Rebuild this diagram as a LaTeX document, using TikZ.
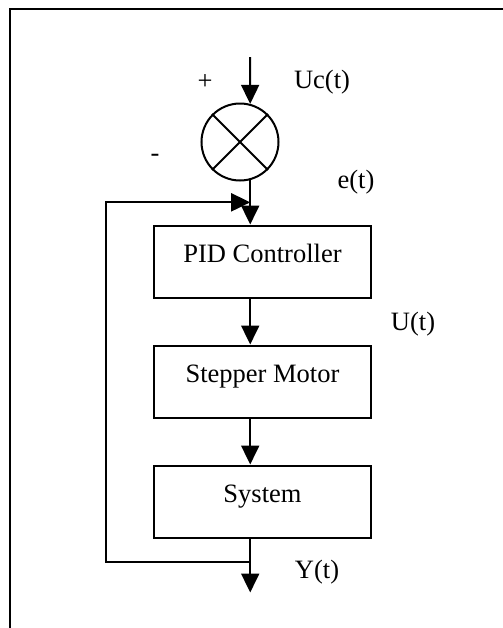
\documentclass[tikz,border=0pt]{standalone}
\usepackage{fontspec}
\setmainfont{Liberation Serif}
\usetikzlibrary{positioning,arrows.meta,calc}
\tikzset{
  block/.style={draw=black, line width=1pt, minimum width=108.5pt, minimum height=36pt,
    inner sep=0pt, text height=9pt, text depth=8.5pt},
  sumjunc/.style={draw=black, line width=1pt, shape=circle, minimum size=38.5pt, inner sep=0pt},
  signal/.style={draw=black, line width=1pt, -{Triangle[width=9pt,length=9.5pt]}},
  wire/.style={draw=black, line width=1pt},
  frame/.style={draw=black, line width=1.2pt},
  lbl/.style={inner sep=0pt},
}
\begin{document}
\begin{tikzpicture}[x=0.5pt,y=-0.5pt,font=\fontsize{13.25pt}{16pt}\selectfont]
  \useasboundingbox (0,0) rectangle (503,628);
  \draw[frame] (10,640) -- (10,9) -- (515,9);

  % summing point and blocks
  \node[sumjunc] (sum) at (240,142) {};
  \node[block] (pid) at (262.5,261.5) {PID Controller};
  \node[block,below=23pt of pid] (motor) {Stepper Motor};
  \node[block,below=23pt of motor] (sys) {System};

  \coordinate (in) at (250,57);
  \coordinate (fbin) at ($(sum.285)!0.5!(sum.285 |- pid.north)$);
  \coordinate[below=11.5pt of sum.285 |- sys.south] (branch);
  \coordinate[below=27pt of sum.285 |- sys.south] (out);
  \coordinate[left=72pt of branch] (fbbot);

  \draw[wire] (sum.45) -- (sum.225);
  \draw[wire] (sum.135) -- (sum.315);
  \draw[signal] (in) -- (sum.75);
  \draw[signal] (sum.285) -- (sum.285 |- pid.north);
  \draw[signal] (sum.285 |- pid.south) -- (sum.285 |- motor.north);
  \draw[signal] (sum.285 |- motor.south) -- (sum.285 |- sys.north);
  \draw[signal] (sum.285 |- sys.south) -- (out);
  \draw[signal] (branch) -- (fbbot) |- (fbin);

  % signal names
  \node[lbl] (plus) at (205,82) {+};
  \node[lbl] (ucin) at (322,82) {Uc(t)};
  \node[lbl] (minus) at (155,158) {-};
  \node[lbl] (err) at (356,182) {e(t)};
  \node[lbl] (uout) at (413,324) {U(t)};
  \node[lbl] (yout) at (317,572) {Y(t)};
\end{tikzpicture}
\end{document}
